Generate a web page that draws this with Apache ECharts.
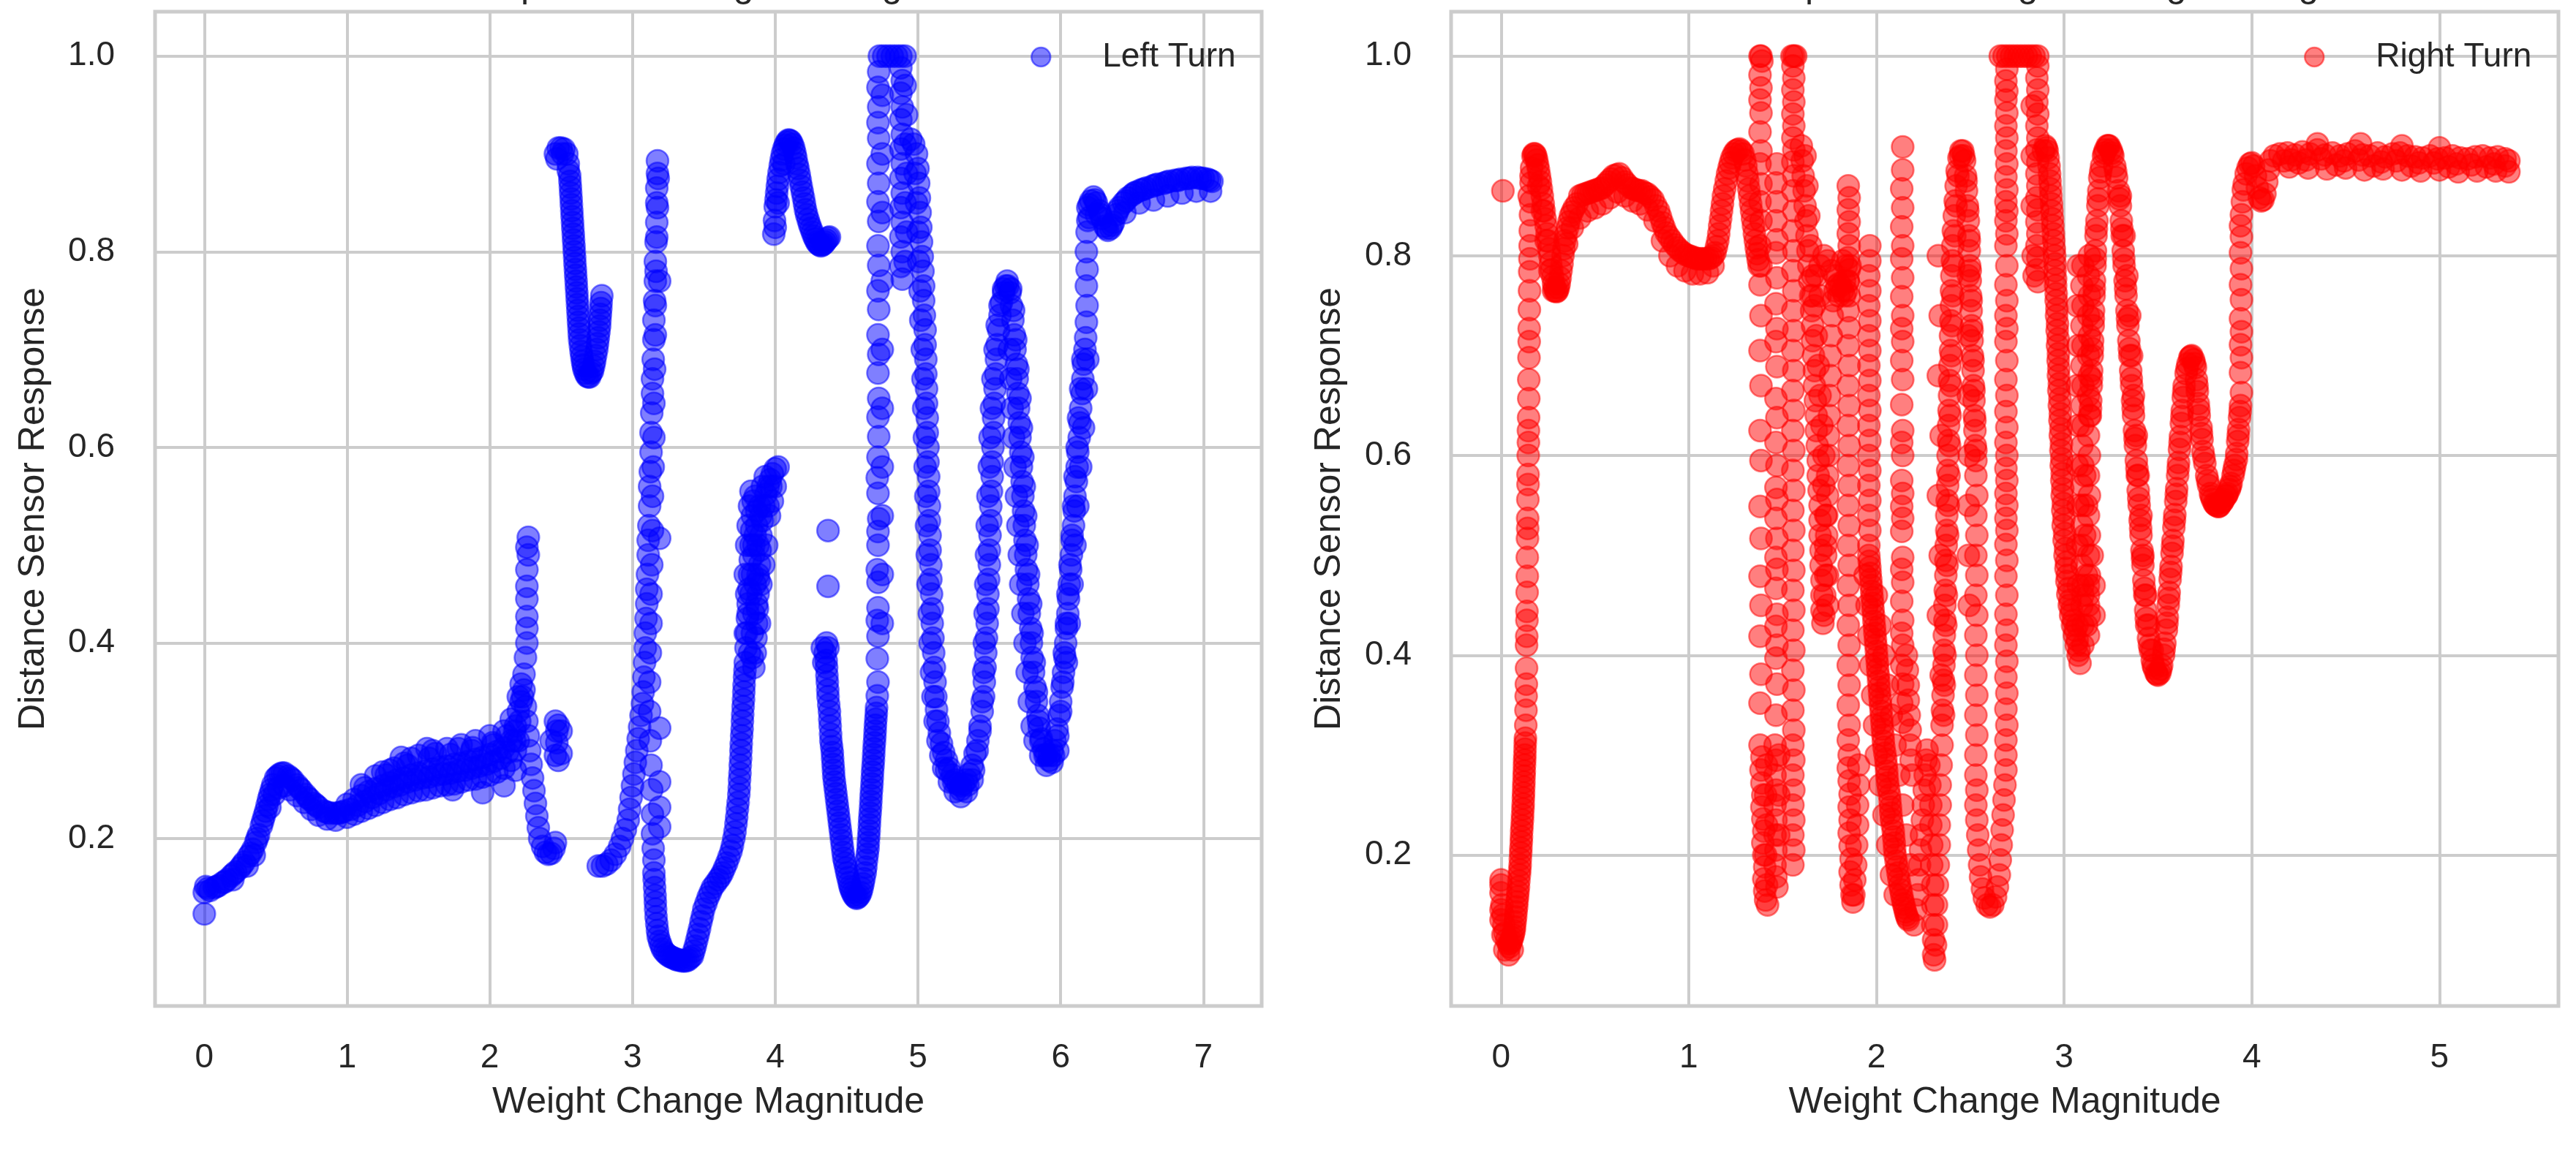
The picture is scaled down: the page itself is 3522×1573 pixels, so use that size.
<!DOCTYPE html>
<html>
<head>
<meta charset="utf-8">
<script src="https://cdn.jsdelivr.net/npm/echarts@6/dist/echarts.min.js"></script>
<style>
  html, body { margin: 0; padding: 0; background: #ffffff; }
  #chart { width: 3522px; height: 1573px; }
</style>
</head>
<body>
<div id="chart"></div>
<script>
// tick labels
var leftXTicks = [0, 1, 2, 3, 4, 5, 6, 7];
var rightXTicks = [0, 1, 2, 3, 4, 5];
var yTicks = [0.2, 0.4, 0.6, 0.8, 1.0];

// Left Turn: [weight change magnitude, distance sensor response]
var leftTurnPoints = [
  [0,0.145],[0,0.123],[0.01,0.151],[0.04,0.147],[0.07,0.15],[0.1,0.152],[0.13,0.155],[0.16,0.158],[0.19,0.162],[0.22,0.166],
  [0.25,0.17],[0.28,0.176],[0.31,0.182],[0.34,0.189],[0.36,0.196],[0.38,0.204],[0.4,0.213],[0.42,0.223],[0.44,0.234],[0.46,0.245],
  [0.48,0.255],[0.5,0.262],[0.53,0.266],[0.56,0.267],[0.59,0.264],[0.62,0.26],[0.65,0.255],[0.68,0.25],[0.71,0.245],[0.74,0.24],
  [0.77,0.236],[0.8,0.232],[0.84,0.228],[0.88,0.226],[0.92,0.226],[0.96,0.227],
  [0.46,0.232],[0.49,0.245],[0.52,0.252],[0.56,0.254],[0.6,0.25],[0.65,0.244],[0.7,0.237],[0.75,0.23],[0.8,0.224],[0.86,0.22],[0.92,0.219],
  [0.3,0.172],[0.35,0.183],[0.2,0.158],
  [1.0,0.222],[1.0,0.235],[1.05,0.225],[1.05,0.24],[1.1,0.228],[1.1,0.244],[1.1,0.255],[1.15,0.231],[1.15,0.248],
  [1.2,0.234],[1.2,0.251],[1.2,0.264],[1.25,0.237],[1.25,0.254],[1.3,0.24],[1.3,0.257],[1.3,0.27],[1.35,0.242],[1.35,0.26],
  [1.4,0.245],[1.4,0.262],[1.4,0.277],[1.45,0.247],[1.45,0.265],[1.5,0.249],[1.5,0.267],[1.5,0.285],[1.55,0.25],[1.55,0.269],
  [1.6,0.252],[1.6,0.271],[1.6,0.29],[1.65,0.254],[1.65,0.273],[1.7,0.255],[1.7,0.274],[1.7,0.292],[1.75,0.256],[1.75,0.276],
  [1.8,0.258],[1.8,0.277],[1.8,0.296],[1.85,0.26],[1.85,0.279],[1.9,0.261],[1.9,0.281],[1.9,0.3],[1.95,0.263],[1.95,0.283],
  [2.0,0.265],[2.0,0.286],[2.0,0.305],[2.05,0.268],[2.05,0.289],[2.1,0.272],[2.1,0.293],[2.1,0.31],[2.15,0.28],[2.15,0.3],[2.15,0.322],
  [2.18,0.29],[2.18,0.315],[2.2,0.3],[2.2,0.33],[2.2,0.345],[2.22,0.34],[2.22,0.358],[2.24,0.352],[2.24,0.368],
  [1.38,0.283],[1.56,0.292],[1.74,0.25],[1.95,0.247],[2.1,0.254],[2.18,0.27],
  [1.45,0.282],[1.62,0.287],[1.78,0.292],[1.88,0.293],[2.02,0.298],[2.12,0.305],[1.25,0.268],[1.33,0.272],
  [2.25,0.385],[2.26,0.4],[2.26,0.415],[2.26,0.427],[2.26,0.445],[2.26,0.458],[2.26,0.475],[2.27,0.49],[2.26,0.498],[2.27,0.508],
  [2.25,0.335],[2.26,0.32],[2.27,0.305],[2.28,0.29],[2.29,0.276],[2.3,0.262],[2.31,0.249],[2.32,0.236],[2.33,0.223],[2.34,0.211],
  [2.35,0.2],[2.37,0.192],[2.39,0.186],[2.41,0.184],[2.43,0.185],[2.45,0.19],[2.46,0.196],
  [2.43,0.3],[2.46,0.285],[2.47,0.298],[2.47,0.31],[2.48,0.316],[2.5,0.31],[2.5,0.287],[2.48,0.28],[2.46,0.32],
  [2.46,0.9],[2.48,0.906],[2.5,0.906],[2.52,0.905],[2.54,0.9],[2.55,0.89],[2.56,0.878],[2.565,0.866],[2.57,0.854],[2.575,0.842],
  [2.58,0.83],[2.585,0.818],[2.59,0.806],[2.595,0.794],[2.6,0.782],[2.605,0.77],[2.61,0.758],[2.615,0.746],[2.62,0.734],[2.625,0.722],
  [2.63,0.71],[2.64,0.698],[2.65,0.688],[2.66,0.68],[2.68,0.673],[2.7,0.672],[2.72,0.678],[2.735,0.688],[2.75,0.7],[2.76,0.712],
  [2.77,0.724],[2.775,0.736],[2.78,0.748],[2.785,0.755],
  [2.76,0.172],[2.79,0.172],[2.82,0.174],[2.85,0.178],[2.88,0.184],[2.91,0.192],[2.93,0.2],[2.95,0.209],[2.97,0.219],[2.98,0.23],
  [2.99,0.242],[3.0,0.254],[3.01,0.266],[3.02,0.278],[3.03,0.29],[3.04,0.302],[3.05,0.314],[3.06,0.326],[3.07,0.338],[3.075,0.35],
  [3.08,0.365],[3.085,0.38],[3.09,0.395],[3.09,0.41],[3.095,0.425],[3.1,0.44],[3.1,0.455],[3.105,0.47],[3.11,0.49],[3.11,0.505],
  [3.115,0.52],[3.12,0.54],[3.12,0.56],[3.125,0.575],[3.13,0.595],[3.13,0.615],[3.135,0.635],[3.14,0.655],[3.14,0.67],[3.145,0.69],
  [3.15,0.71],[3.15,0.73],[3.155,0.75],[3.16,0.77],[3.16,0.79],[3.165,0.81],[3.17,0.83],[3.17,0.85],[3.17,0.865],[3.175,0.88],[3.175,0.893],
  [3.18,0.875],[3.175,0.845],[3.17,0.815],[3.165,0.78],[3.16,0.745],[3.16,0.715],[3.155,0.68],[3.15,0.645],[3.15,0.61],[3.145,0.58],
  [3.14,0.55],[3.14,0.515],[3.135,0.48],[3.13,0.45],[3.13,0.42],[3.125,0.39],[3.12,0.36],[3.12,0.33],[3.125,0.3],[3.13,0.275],
  [3.135,0.25],[3.14,0.225],[3.14,0.205],[3.145,0.19],[3.15,0.178],
  [3.19,0.77],[3.19,0.507],[3.19,0.313],[3.19,0.258],[3.19,0.232],[3.19,0.212],
  [3.15,0.165],[3.155,0.15],[3.16,0.135],[3.165,0.12],[3.175,0.106],[3.19,0.095],[3.21,0.087],[3.24,0.082],[3.27,0.079],[3.3,0.077],
  [3.33,0.076],[3.36,0.075],[3.39,0.076],[3.42,0.08],[3.44,0.09],[3.46,0.102],[3.48,0.115],[3.5,0.128],[3.53,0.14],[3.56,0.15],
  [3.6,0.158],[3.63,0.165],[3.66,0.175],[3.69,0.187],[3.71,0.2],[3.725,0.215],[3.735,0.23],[3.745,0.245],[3.75,0.26],[3.755,0.275],
  [3.76,0.29],[3.765,0.305],[3.77,0.32],[3.775,0.335],[3.78,0.35],[3.785,0.365],[3.79,0.38],
  [3.795,0.395],[3.8,0.41],[3.805,0.425],[3.81,0.44],[3.815,0.455],[3.82,0.47],[3.825,0.485],[3.83,0.5],[3.835,0.515],[3.84,0.53],[3.845,0.545],
  [3.8,0.45],[3.79,0.47],[3.8,0.5],[3.81,0.52],[3.82,0.54],[3.83,0.555],
  [3.85,0.375],[3.86,0.39],[3.865,0.405],[3.87,0.42],[3.875,0.435],[3.88,0.45],[3.885,0.465],[3.89,0.48],[3.895,0.495],[3.9,0.51],
  [3.91,0.525],[3.92,0.54],[3.935,0.552],[3.95,0.56],[3.965,0.567],[3.98,0.573],[4.0,0.578],[4.02,0.58],
  [3.86,0.55],[3.87,0.535],[3.86,0.51],[3.85,0.49],[3.86,0.46],[3.85,0.43],[3.84,0.41],[3.88,0.5],[3.9,0.46],[3.94,0.5],[3.96,0.53],[3.98,0.545],[4.0,0.56],
  [3.79,0.41],[3.81,0.43],[3.83,0.45],[3.84,0.47],[3.85,0.5],[3.87,0.52],[3.89,0.54],[3.91,0.56],[3.93,0.57],[3.9,0.53],
  [3.88,0.47],[3.87,0.44],[3.89,0.42],[3.92,0.48],[3.95,0.54],[3.97,0.56],[3.82,0.39],[3.84,0.385],
  [4.37,0.515],[4.37,0.458],
  [3.99,0.818],[3.995,0.832],[4.0,0.846],[4.01,0.86],[4.02,0.874],[4.035,0.888],[4.05,0.9],[4.07,0.909],[4.09,0.914],[4.11,0.913],
  [4.13,0.906],[4.145,0.896],[4.16,0.885],[4.175,0.873],[4.19,0.861],[4.205,0.849],[4.22,0.838],[4.24,0.828],[4.26,0.82],[4.28,0.813],
  [4.3,0.808],[4.32,0.806],[4.34,0.808],[4.36,0.812],[4.38,0.815],[4.0,0.825],[4.02,0.85],[4.06,0.89],
  [4.33,0.395],[4.34,0.38],[4.37,0.395],[4.36,0.4],
  [4.35,0.39],[4.36,0.375],[4.365,0.36],[4.37,0.345],[4.38,0.33],[4.385,0.315],[4.39,0.3],[4.4,0.288],[4.405,0.276],[4.41,0.264],
  [4.42,0.252],[4.43,0.24],[4.44,0.228],[4.45,0.216],[4.46,0.204],[4.47,0.192],[4.48,0.18],[4.495,0.17],[4.51,0.16],[4.525,0.151],
  [4.54,0.145],[4.56,0.14],[4.58,0.14],[4.6,0.145],[4.615,0.154],[4.63,0.165],[4.64,0.178],[4.65,0.19],[4.655,0.202],[4.66,0.214],
  [4.665,0.226],[4.67,0.238],[4.675,0.25],[4.68,0.262],[4.685,0.274],[4.69,0.286],[4.695,0.298],[4.7,0.31],[4.705,0.322],[4.71,0.334],[4.715,0.346],
  [4.72,0.36],[4.715,0.384],[4.72,0.407],[4.715,0.423],[4.72,0.436],[4.72,0.462],[4.715,0.475],[4.72,0.5],[4.72,0.514],[4.725,0.527],
  [4.72,0.553],[4.715,0.569],[4.72,0.59],[4.725,0.611],[4.72,0.631],[4.725,0.65],[4.72,0.676],[4.725,0.695],[4.72,0.715],[4.725,0.741],
  [4.72,0.76],[4.725,0.786],[4.72,0.806],[4.725,0.831],[4.72,0.851],[4.725,0.87],[4.72,0.89],[4.725,0.916],[4.72,0.932],[4.725,0.948],
  [4.72,0.968],[4.725,0.984],
  [4.75,0.42],[4.75,0.47],[4.75,0.53],[4.75,0.58],[4.75,0.64],[4.75,0.7],[4.75,0.77],[4.75,0.84],[4.75,0.9],[4.75,0.96],
  [4.73,1.0],[4.76,1.0],[4.79,1.0],[4.82,1.0],[4.85,1.0],[4.88,1.0],[4.91,1.0],
  [4.88,0.988],[4.89,0.975],[4.88,0.962],[4.89,0.948],[4.88,0.935],[4.89,0.92],[4.88,0.905],[4.89,0.89],[4.88,0.875],[4.89,0.86],
  [4.88,0.845],[4.89,0.83],[4.88,0.815],[4.89,0.8],[4.88,0.785],[4.89,0.772],
  [4.91,0.97],[4.92,0.94],[4.91,0.91],[4.92,0.88],[4.91,0.85],[4.92,0.82],[4.91,0.79],
  [4.95,0.915],[4.97,0.91],[4.99,0.9],[5.0,0.885],[5.005,0.87],[5.01,0.855],[5.015,0.84],[5.02,0.825],[5.025,0.81],[5.03,0.795],
  [5.035,0.78],[5.04,0.765],[5.04,0.75],[5.045,0.735],[5.05,0.72],[5.05,0.705],[5.055,0.69],[5.055,0.675],[5.06,0.66],[5.06,0.645],
  [5.065,0.63],[5.065,0.615],[5.07,0.6],[5.07,0.585],[5.075,0.57],[5.075,0.555],[5.08,0.54],[5.08,0.525],[5.085,0.51],[5.085,0.495],
  [5.09,0.48],[5.09,0.465],[5.095,0.45],[5.1,0.435],[5.1,0.42],[5.105,0.405],[5.11,0.39],[5.115,0.375],[5.12,0.36],[5.125,0.345],
  [5.13,0.332],[5.14,0.32],[5.15,0.308],[5.165,0.297],[5.18,0.288],[5.2,0.28],[5.22,0.272],[5.24,0.265],[5.26,0.26],[5.28,0.256],
  [5.3,0.254],[5.32,0.256],[5.34,0.26],[5.36,0.266],[5.38,0.275],[5.4,0.287],[5.42,0.3],[5.435,0.315],[5.45,0.33],[5.46,0.345],
  [5.465,0.36],[5.47,0.375],[5.475,0.39],[5.48,0.405],[5.485,0.42],[5.49,0.435],[5.49,0.45],[5.495,0.465],[5.5,0.48],[5.5,0.495],
  [5.505,0.51],[5.51,0.525],[5.51,0.54],[5.515,0.555],[5.52,0.57],[5.52,0.585],[5.525,0.6],[5.53,0.615],[5.53,0.63],[5.535,0.645],
  [5.54,0.66],[5.545,0.675],[5.55,0.69],[5.555,0.705],[5.565,0.72],[5.575,0.735],[5.585,0.748],[5.6,0.758],[5.615,0.765],[5.63,0.765],
  [5.645,0.758],[5.655,0.745],[5.665,0.73],[5.675,0.715],[5.68,0.7],[5.69,0.685],[5.695,0.67],[5.7,0.655],[5.705,0.64],[5.71,0.625],
  [5.715,0.61],[5.72,0.595],[5.725,0.58],[5.73,0.565],[5.735,0.55],[5.74,0.535],[5.745,0.52],[5.75,0.505],[5.755,0.49],[5.76,0.475],
  [5.77,0.46],[5.775,0.445],[5.78,0.43],[5.79,0.415],[5.795,0.4],[5.8,0.385],[5.81,0.37],[5.82,0.355],[5.83,0.34],[5.84,0.326],
  [5.85,0.313],[5.865,0.302],[5.88,0.292],[5.9,0.286],[5.92,0.285],[5.94,0.29],[5.96,0.3],[5.975,0.312],[5.99,0.326],[6.0,0.34],
  [6.01,0.355],[6.02,0.37],[6.03,0.385],[6.035,0.4],[6.04,0.415],[6.05,0.43],[6.055,0.445],[6.06,0.46],[6.07,0.475],[6.075,0.49],
  [6.08,0.505],[6.09,0.52],[6.095,0.535],[6.1,0.55],[6.11,0.565],[6.115,0.58],[6.12,0.595],[6.13,0.61],[6.135,0.625],[6.14,0.64],
  [6.15,0.655],[6.155,0.67],[6.16,0.685],[6.17,0.7],[6.175,0.712],
  [5.18,0.272],[5.22,0.258],[5.26,0.248],[5.3,0.243],[5.34,0.248],[5.38,0.26],
  [5.64,0.7],[5.65,0.67],[5.66,0.64],[5.67,0.61],[5.68,0.58],[5.69,0.55],[5.7,0.52],[5.71,0.49],[5.72,0.46],[5.735,0.43],
  [5.75,0.4],[5.765,0.37],[5.78,0.34],[5.8,0.315],[5.82,0.3],
  [5.86,0.285],[5.9,0.275],[5.94,0.278],[5.98,0.29],
  [6.04,0.38],[6.06,0.42],[6.08,0.46],[6.1,0.5],[6.12,0.54],[6.14,0.58],[6.16,0.62],[6.18,0.66],[6.19,0.69],
  [6.18,0.728],[6.185,0.745],[6.18,0.765],[6.185,0.782],[6.18,0.8],[6.185,0.82],[6.19,0.832],
  [6.19,0.845],[6.21,0.852],[6.23,0.856],[6.25,0.85],[6.27,0.842],[6.29,0.834],[6.31,0.826],[6.33,0.822],[6.35,0.824],[6.37,0.83],
  [6.39,0.838],[6.41,0.845],[6.44,0.85],[6.47,0.855],[6.5,0.858],[6.53,0.861],[6.56,0.863],[6.6,0.865],[6.64,0.867],[6.68,0.869],
  [6.72,0.87],[6.76,0.872],[6.8,0.873],[6.84,0.874],[6.88,0.875],[6.92,0.876],[6.96,0.876],[7.0,0.875],[7.03,0.874],[7.06,0.872],
  [6.45,0.84],[6.55,0.85],[6.65,0.853],[6.75,0.857],[6.85,0.86],[6.95,0.862],[7.05,0.862],[6.2,0.835],[6.25,0.838]
];

// Left Turn: further points along the densely overplotted stretches
var leftTurnDense = [
  [0.025,0.149],[0.085,0.151],[0.145,0.156],[0.205,0.164],[0.265,0.173],[0.325,0.185],[0.37,0.2],[0.41,0.218],[0.43,0.228],[0.45,0.24],
  [0.47,0.25],[0.515,0.264],[0.545,0.267],[0.605,0.262],[0.665,0.252],[0.725,0.242],[0.785,0.234],[0.86,0.227],[0.94,0.226],[0.98,0.228],
  [1.025,0.23],[1.075,0.234],[1.125,0.238],[1.175,0.242],[1.225,0.246],[1.275,0.25],[1.325,0.253],[1.375,0.255],[1.425,0.258],[1.475,0.26],
  [1.525,0.262],[1.575,0.263],[1.625,0.265],[1.675,0.266],[1.725,0.267],[1.775,0.269],[1.825,0.27],[1.875,0.272],[1.925,0.274],[1.975,0.276],
  [2.025,0.279],[2.075,0.282],[2.125,0.288],[2.175,0.3],
  [1.125,0.252],[1.275,0.265],[1.425,0.275],[1.575,0.282],[1.725,0.286],[1.875,0.29],[2.025,0.296],[2.175,0.31],[2.21,0.32],[2.23,0.345],
  [2.47,0.895],[2.51,0.9],[2.55,0.883],[2.562,0.872],[2.567,0.86],[2.572,0.848],[2.577,0.836],[2.582,0.824],[2.587,0.812],[2.592,0.8],
  [2.597,0.788],[2.602,0.776],[2.607,0.764],[2.612,0.752],[2.617,0.74],[2.622,0.728],[2.627,0.716],[2.635,0.704],[2.645,0.693],[2.655,0.684],
  [2.67,0.676],[2.69,0.672],[2.71,0.676],[2.728,0.683],[2.742,0.694],[2.755,0.706],[2.765,0.718],[2.772,0.73],[2.778,0.742],
  [3.152,0.158],[3.158,0.142],[3.162,0.128],[3.17,0.113],[3.18,0.1],[3.2,0.091],[3.225,0.084],[3.255,0.08],[3.285,0.078],[3.315,0.076],
  [3.345,0.075],[3.375,0.075],[3.405,0.078],[3.43,0.085],[3.45,0.096],[3.47,0.108],[3.49,0.121],[3.515,0.134],[3.545,0.145],[3.58,0.154],
  [3.615,0.161],[3.645,0.17],[3.675,0.181],[3.7,0.193],[3.718,0.207],[3.73,0.222],[3.74,0.237],[3.748,0.252],[3.753,0.267],[3.758,0.282],
  [3.762,0.297],[3.768,0.312],[3.772,0.327],[3.778,0.342],[3.782,0.357],[3.788,0.372],
  [4.005,0.853],[4.015,0.867],[4.027,0.881],[4.042,0.894],[4.06,0.905],[4.08,0.912],[4.1,0.914],[4.12,0.91],[4.138,0.901],[4.152,0.89],
  [4.168,0.879],[4.182,0.867],[4.198,0.855],[4.212,0.843],[4.23,0.833],[4.25,0.824],[4.27,0.816],[4.29,0.81],[4.31,0.807],[4.33,0.807],
  [4.35,0.81],[4.37,0.814],
  [4.357,0.382],[4.362,0.367],[4.368,0.352],[4.375,0.337],[4.382,0.322],[4.388,0.307],[4.395,0.294],[4.402,0.282],[4.408,0.27],[4.415,0.258],
  [4.425,0.246],[4.435,0.234],[4.445,0.222],[4.455,0.21],[4.465,0.198],[4.475,0.186],[4.488,0.175],[4.502,0.165],[4.518,0.155],[4.532,0.148],
  [4.55,0.142],[4.57,0.139],[4.59,0.142],[4.608,0.149],[4.622,0.159],[4.635,0.171],[4.645,0.184],[4.652,0.196],[4.658,0.208],[4.662,0.22],
  [4.668,0.232],[4.672,0.244],[4.678,0.256],[4.682,0.268],[4.688,0.28],[4.692,0.292],[4.698,0.304],[4.702,0.316],[4.708,0.328],
  [4.98,0.88],[4.99,0.85],[5.0,0.82],[5.005,0.79],[5.015,0.76],[5.02,0.73],[5.03,0.7],[5.035,0.67],[5.04,0.64],[5.045,0.61],
  [5.05,0.58],[5.055,0.55],[5.06,0.52],[5.065,0.49],[5.07,0.46],[5.08,0.43],[5.085,0.4],[5.095,0.37],[5.105,0.345],[5.12,0.32],
  [5.14,0.3],[5.16,0.285],[5.2,0.27],[5.25,0.258],[5.3,0.25],[5.35,0.255],[5.39,0.27],[5.415,0.29],[5.435,0.31],[5.45,0.34],
  [5.46,0.37],[5.465,0.4],[5.47,0.43],[5.475,0.46],[5.48,0.49],[5.485,0.52],[5.49,0.55],[5.5,0.58],[5.505,0.61],[5.515,0.64],
  [5.525,0.67],[5.54,0.7],[5.555,0.725],[5.575,0.745],[5.6,0.762],[5.625,0.77],[5.65,0.762],[5.67,0.74],[5.685,0.71],[5.7,0.68],
  [5.715,0.65],[5.725,0.62],[5.735,0.59],[5.745,0.56],[5.755,0.53],[5.765,0.5],[5.775,0.47],[5.79,0.44],[5.8,0.41],[5.815,0.38],
  [5.83,0.35],[5.845,0.32],[5.86,0.3],[5.89,0.285],[5.92,0.28],[5.95,0.285],[5.98,0.305],[6.0,0.33],[6.015,0.36],[6.025,0.39],
  [6.04,0.42],[6.05,0.45],[6.065,0.48],[6.08,0.51],[6.09,0.54],[6.1,0.57],[6.115,0.6],[6.125,0.63],[6.14,0.66],[6.155,0.69],
  [6.2,0.848],[6.24,0.853],[6.28,0.838],[6.32,0.824],[6.36,0.827],[6.4,0.842],[6.455,0.852],[6.515,0.86],[6.58,0.864],[6.66,0.868],
  [6.74,0.871],[6.82,0.873],[6.9,0.875],[6.98,0.875],[7.045,0.873]
];

// Right Turn: [weight change magnitude, distance sensor response]
var rightTurnPoints = [
  [0.01,0.865],
  [0.0,0.175],[0.0,0.162],[0.005,0.15],[0.01,0.14],[0.015,0.13],[0.02,0.122],[0.03,0.115],[0.04,0.111],[0.05,0.112],[0.06,0.117],
  [0.07,0.124],[0.075,0.133],[0.08,0.143],[0.085,0.153],[0.09,0.163],[0.095,0.174],[0.1,0.185],[0.103,0.196],[0.106,0.207],[0.109,0.218],
  [0.112,0.229],[0.115,0.24],[0.118,0.251],[0.12,0.262],[0.122,0.273],[0.124,0.284],[0.126,0.295],[0.128,0.306],[0.13,0.317],
  [0.02,0.105],[0.04,0.1],[0.06,0.105],[0.0,0.135],[0.01,0.12],
  [0.132,0.33],[0.133,0.345],[0.134,0.359],[0.135,0.371],[0.136,0.387],[0.136,0.41],[0.137,0.419],[0.138,0.435],[0.138,0.444],[0.139,0.463],
  [0.14,0.479],[0.14,0.498],[0.141,0.517],[0.142,0.527],[0.142,0.537],[0.143,0.556],[0.144,0.571],[0.144,0.581],[0.145,0.6],[0.146,0.613],
  [0.146,0.625],[0.147,0.638],[0.148,0.657],[0.148,0.676],[0.149,0.698],[0.15,0.714],[0.15,0.727],[0.151,0.746],[0.152,0.765],[0.153,0.784],
  [0.154,0.797],[0.155,0.81],[0.156,0.825],[0.157,0.841],[0.158,0.854],[0.16,0.873],[0.163,0.888],
  [0.17,0.9],[0.18,0.902],[0.19,0.896],[0.2,0.886],[0.21,0.874],[0.22,0.86],[0.23,0.845],[0.24,0.83],[0.25,0.815],[0.26,0.8],
  [0.27,0.786],[0.28,0.772],[0.29,0.765],[0.3,0.765],[0.31,0.772],[0.32,0.785],[0.33,0.8],[0.34,0.815],[0.355,0.828],[0.37,0.84],
  [0.39,0.848],[0.42,0.86],[0.45,0.862],[0.48,0.864],[0.51,0.866],[0.54,0.868],[0.57,0.874],[0.6,0.88],[0.63,0.882],[0.66,0.874],
  [0.69,0.868],[0.72,0.866],[0.75,0.865],[0.78,0.862],[0.81,0.856],[0.84,0.845],[0.86,0.833],[0.88,0.823],[0.91,0.815],[0.94,0.808],
  [0.97,0.803],[1.0,0.8],[1.03,0.798],[1.06,0.797],[1.09,0.797],[1.12,0.798],[1.14,0.803],[1.155,0.815],[1.165,0.83],[1.175,0.845],
  [1.185,0.86],[1.2,0.875],[1.215,0.888],[1.23,0.898],[1.25,0.905],[1.27,0.907],[1.29,0.902],[1.305,0.89],[1.315,0.875],[1.325,0.86],
  [1.335,0.845],[1.345,0.83],[1.355,0.815],[1.365,0.802],[1.375,0.79],
  [0.35,0.812],[0.38,0.828],[0.42,0.838],[0.46,0.845],[0.5,0.848],[0.54,0.852],[0.58,0.858],[0.62,0.864],[0.66,0.86],[0.7,0.855],
  [0.74,0.852],[0.78,0.846],[0.82,0.835],[0.86,0.815],[0.9,0.8],[0.94,0.79],[0.98,0.785],[1.02,0.782],[1.06,0.782],[1.1,0.783],
  [1.13,0.79],[0.16,0.88],[0.15,0.86],[0.2,0.87],[0.22,0.845],[0.24,0.815],[0.26,0.785],[0.28,0.765],
  [1.38,1.0],[1.385,1.0],[1.39,0.995],[1.38,0.981],[1.385,0.968],[1.38,0.956],[1.385,0.943],[1.38,0.924],[1.385,0.905],[1.38,0.892],
  [1.385,0.872],[1.38,0.854],[1.385,0.835],[1.38,0.81],[1.385,0.79],[1.38,0.771],[1.385,0.74],[1.38,0.705],[1.385,0.67],[1.38,0.625],
  [1.385,0.595],[1.38,0.549],[1.385,0.517],[1.38,0.479],[1.385,0.45],[1.38,0.419],[1.385,0.381],[1.38,0.352],
  [1.38,0.31],[1.39,0.298],[1.385,0.285],[1.39,0.272],[1.395,0.26],[1.39,0.248],[1.395,0.236],[1.4,0.224],[1.395,0.212],[1.4,0.2],
  [1.405,0.188],[1.4,0.176],[1.405,0.164],[1.41,0.155],[1.42,0.15],[1.415,0.17],[1.41,0.2],[1.415,0.23],[1.41,0.26],[1.415,0.29],
  [1.47,0.892],[1.465,0.873],[1.47,0.854],[1.465,0.835],[1.47,0.816],[1.465,0.803],[1.47,0.778],[1.465,0.752],[1.47,0.727],[1.465,0.714],
  [1.47,0.689],[1.465,0.657],[1.47,0.638],[1.465,0.613],[1.47,0.59],[1.465,0.568],[1.47,0.556],[1.465,0.537],[1.47,0.517],[1.465,0.498],
  [1.47,0.486],[1.465,0.467],[1.47,0.441],[1.465,0.429],[1.47,0.41],[1.465,0.397],[1.47,0.371],[1.465,0.34],
  [1.46,0.31],[1.465,0.295],[1.46,0.28],[1.465,0.265],[1.46,0.25],[1.465,0.235],[1.46,0.22],[1.465,0.205],[1.46,0.19],[1.465,0.178],
  [1.47,0.168],[1.48,0.3],[1.48,0.26],[1.48,0.22],
  [1.55,1.0],[1.56,1.0],[1.57,1.0],[1.555,0.99],[1.56,0.978],[1.555,0.966],[1.56,0.954],[1.555,0.942],[1.56,0.93],[1.555,0.918],
  [1.56,0.906],[1.555,0.894],[1.56,0.88],[1.555,0.865],[1.56,0.845],[1.555,0.825],[1.56,0.805],[1.555,0.785],[1.56,0.765],[1.555,0.745],
  [1.56,0.725],[1.555,0.705],[1.56,0.685],[1.555,0.665],[1.56,0.645],[1.555,0.625],[1.56,0.605],[1.555,0.585],[1.56,0.565],[1.555,0.545],
  [1.56,0.525],[1.555,0.505],[1.56,0.485],[1.555,0.465],[1.56,0.445],[1.555,0.425],[1.56,0.405],[1.555,0.385],[1.56,0.365],[1.555,0.345],
  [1.56,0.325],[1.555,0.31],[1.56,0.295],[1.555,0.28],[1.56,0.265],[1.555,0.25],[1.56,0.235],[1.555,0.22],[1.56,0.205],[1.555,0.19],
  [1.6,0.91],[1.605,0.895],[1.61,0.88],[1.615,0.865],[1.62,0.85],[1.625,0.835],[1.63,0.82],[1.635,0.805],[1.64,0.79],[1.645,0.775],
  [1.65,0.76],[1.655,0.745],[1.66,0.73],[1.66,0.715],[1.665,0.7],[1.67,0.685],[1.67,0.67],[1.675,0.655],[1.68,0.64],[1.68,0.625],
  [1.685,0.61],[1.69,0.595],[1.69,0.58],[1.695,0.565],[1.7,0.55],[1.7,0.535],[1.7,0.52],[1.705,0.505],[1.705,0.49],[1.71,0.475],
  [1.71,0.46],[1.71,0.445],[1.715,0.432],
  [1.62,0.9],[1.63,0.87],[1.64,0.84],[1.65,0.81],[1.66,0.78],[1.67,0.75],[1.68,0.72],[1.69,0.69],[1.7,0.66],[1.71,0.63],
  [1.72,0.6],[1.72,0.57],[1.73,0.54],[1.73,0.51],[1.74,0.48],[1.74,0.45],
  [1.72,0.44],[1.725,0.46],[1.73,0.48],[1.73,0.5],[1.735,0.52],[1.735,0.54],[1.74,0.56],[1.74,0.58],[1.745,0.6],[1.745,0.62],
  [1.75,0.64],[1.75,0.66],[1.755,0.68],[1.755,0.7],[1.76,0.72],[1.765,0.74],[1.77,0.755],[1.78,0.765],[1.79,0.77],[1.8,0.772],
  [1.81,0.77],[1.82,0.765],[1.83,0.76],[1.84,0.765],[1.85,0.775],[1.86,0.79],
  [1.68,0.78],[1.7,0.79],[1.72,0.8],[1.74,0.795],[1.76,0.785],[1.78,0.78],[1.7,0.76],[1.66,0.76],[1.8,0.76],[1.83,0.775],[1.84,0.79],[1.82,0.795],
  [1.85,0.87],[1.855,0.858],[1.85,0.846],[1.855,0.834],[1.85,0.822],[1.855,0.81],[1.85,0.798],[1.855,0.786],[1.85,0.774],[1.855,0.76],
  [1.85,0.745],[1.855,0.728],[1.85,0.71],[1.855,0.69],[1.85,0.67],[1.855,0.65],[1.85,0.63],[1.855,0.61],[1.85,0.59],[1.855,0.57],
  [1.85,0.55],[1.855,0.53],[1.85,0.51],[1.855,0.49],[1.85,0.47],[1.855,0.45],[1.85,0.43],[1.855,0.41],[1.85,0.39],[1.855,0.37],
  [1.85,0.35],[1.855,0.33],[1.85,0.315],[1.855,0.3],[1.85,0.287],[1.855,0.274],[1.86,0.261],[1.855,0.248],[1.86,0.235],[1.855,0.222],
  [1.86,0.209],[1.865,0.196],[1.86,0.183],[1.865,0.17],[1.87,0.16],[1.875,0.153],[1.88,0.16],[1.885,0.175],[1.89,0.19],[1.895,0.21],
  [1.9,0.23],[1.9,0.25],[1.905,0.27],[1.905,0.29],
  [1.965,0.81],[1.965,0.795],[1.96,0.78],[1.965,0.765],[1.96,0.75],[1.965,0.735],[1.96,0.72],[1.965,0.705],[1.96,0.69],[1.965,0.675],
  [1.96,0.66],[1.965,0.645],[1.96,0.63],[1.965,0.615],[1.96,0.6],[1.965,0.585],[1.96,0.57],[1.965,0.555],[1.96,0.54],[1.965,0.525],[1.96,0.51],
  [1.96,0.5],[1.965,0.488],[1.97,0.476],[1.975,0.464],[1.98,0.452],[1.985,0.44],[1.99,0.428],[1.995,0.416],[2.0,0.404],[2.005,0.392],
  [2.01,0.38],[2.015,0.368],[2.02,0.356],[2.025,0.344],[2.03,0.332],[2.035,0.32],[2.04,0.308],[2.05,0.296],[2.055,0.284],[2.06,0.272],
  [2.07,0.26],[2.075,0.248],[2.08,0.236],[2.09,0.224],[2.095,0.212],[2.1,0.2],[2.11,0.188],[2.12,0.176],[2.13,0.165],[2.14,0.155],
  [2.15,0.147],[2.16,0.14],[2.17,0.135],
  [1.94,0.48],[1.95,0.45],[1.96,0.42],[1.97,0.39],[1.98,0.36],[1.99,0.33],[2.0,0.3],[2.02,0.27],[2.04,0.24],[2.06,0.21],[2.08,0.18],[2.1,0.16],
  [2.0,0.46],[2.02,0.43],[2.04,0.4],[2.06,0.37],[2.08,0.34],[2.1,0.31],[2.12,0.28],[2.14,0.25],[2.16,0.22],[2.18,0.19],
  [2.14,0.909],[2.14,0.886],[2.135,0.867],[2.14,0.848],[2.135,0.829],[2.14,0.81],[2.135,0.797],[2.14,0.778],[2.135,0.759],[2.14,0.74],
  [2.135,0.727],[2.14,0.714],[2.135,0.695],[2.14,0.676],[2.135,0.651],[2.14,0.625],[2.135,0.613],[2.14,0.6],[2.135,0.575],[2.14,0.562],
  [2.135,0.549],[2.14,0.537],[2.135,0.524],[2.14,0.498],[2.135,0.486],[2.14,0.473],[2.135,0.454],[2.14,0.435],[2.135,0.422],[2.14,0.41],
  [2.135,0.39],[2.14,0.371],[2.135,0.352],[2.14,0.333],
  [2.16,0.4],[2.165,0.385],[2.17,0.37],[2.17,0.355],[2.175,0.34],[2.18,0.325],[2.18,0.31],[2.185,0.295],[2.19,0.28],
  [2.2,0.13],[2.21,0.145],[2.22,0.16],[2.225,0.175],[2.23,0.19],[2.235,0.205],[2.24,0.22],[2.245,0.235],[2.25,0.25],[2.255,0.265],
  [2.26,0.28],[2.265,0.295],[2.27,0.305],[2.28,0.29],[2.285,0.27],[2.29,0.25],[2.29,0.23],[2.295,0.21],[2.295,0.19],[2.3,0.17],
  [2.3,0.15],[2.3,0.13],[2.305,0.115],[2.305,0.1],[2.31,0.095],[2.315,0.11],[2.32,0.13],[2.32,0.15],[2.325,0.17],[2.33,0.19],
  [2.335,0.21],[2.335,0.23],[2.34,0.25],[2.34,0.27],[2.345,0.29],[2.35,0.31],
  [2.35,0.33],[2.352,0.345],[2.355,0.36],[2.357,0.375],[2.36,0.39],[2.36,0.405],[2.362,0.42],[2.365,0.435],[2.365,0.45],[2.367,0.465],
  [2.37,0.48],[2.37,0.495],[2.372,0.51],[2.375,0.525],[2.375,0.54],[2.377,0.555],[2.38,0.57],[2.38,0.585],[2.382,0.6],[2.385,0.615],
  [2.385,0.63],[2.387,0.645],[2.39,0.66],[2.39,0.675],[2.392,0.69],[2.395,0.705],[2.395,0.72],[2.397,0.735],[2.4,0.75],[2.4,0.765],
  [2.402,0.78],[2.405,0.795],[2.407,0.81],[2.41,0.825],[2.415,0.84],[2.42,0.855],[2.425,0.87],[2.43,0.885],[2.44,0.898],[2.45,0.905],
  [2.46,0.905],[2.47,0.895],[2.475,0.88],[2.48,0.865],[2.485,0.85],[2.49,0.835],[2.493,0.82],[2.495,0.805],[2.497,0.79],[2.5,0.775],
  [2.502,0.76],[2.505,0.745],[2.507,0.73],[2.51,0.715],[2.512,0.7],[2.515,0.685],[2.517,0.67],[2.52,0.655],[2.522,0.64],[2.525,0.625],
  [2.527,0.61],[2.53,0.595],
  [2.33,0.8],[2.34,0.74],[2.33,0.68],[2.345,0.62],[2.33,0.56],[2.34,0.5],[2.33,0.44],[2.345,0.38],
  [2.53,0.58],[2.535,0.56],[2.53,0.54],[2.535,0.52],[2.53,0.5],[2.535,0.48],[2.53,0.46],[2.535,0.44],[2.53,0.42],[2.535,0.4],
  [2.53,0.38],[2.535,0.36],[2.53,0.34],[2.535,0.32],[2.53,0.3],
  [2.49,0.78],[2.49,0.72],[2.49,0.66],[2.495,0.6],[2.49,0.55],[2.49,0.5],[2.495,0.45],
  [2.53,0.28],[2.535,0.265],[2.53,0.25],[2.535,0.235],[2.54,0.22],[2.545,0.205],[2.55,0.19],[2.555,0.178],[2.565,0.166],[2.575,0.157],
  [2.59,0.15],[2.605,0.148],[2.62,0.15],[2.635,0.158],[2.645,0.168],[2.655,0.18],[2.66,0.195],[2.665,0.21],[2.67,0.225],[2.675,0.24],
  [2.68,0.255],[2.685,0.27],[2.69,0.285],[2.69,0.3],
  [2.69,0.315],[2.695,0.33],[2.69,0.346],[2.695,0.362],[2.69,0.378],[2.695,0.394],[2.69,0.41],[2.695,0.425],[2.69,0.441],[2.695,0.46],
  [2.69,0.479],[2.695,0.495],[2.69,0.511],[2.695,0.525],[2.69,0.537],[2.695,0.55],[2.69,0.562],[2.695,0.575],[2.69,0.587],[2.695,0.6],
  [2.69,0.613],[2.695,0.628],[2.69,0.644],[2.695,0.66],[2.69,0.676],[2.695,0.695],[2.69,0.714],[2.695,0.727],[2.69,0.74],[2.695,0.755],
  [2.69,0.771],[2.695,0.79],[2.69,0.81],[2.695,0.822],[2.69,0.835],[2.695,0.845],[2.69,0.854],[2.695,0.866],[2.69,0.879],[2.695,0.892],
  [2.69,0.905],[2.695,0.918],[2.69,0.93],[2.695,0.943],[2.69,0.956],[2.695,0.965],[2.69,0.975],[2.695,0.987],
  [2.66,1.0],[2.68,1.0],[2.7,1.0],[2.72,1.0],[2.74,1.0],[2.76,1.0],[2.78,1.0],[2.8,1.0],[2.82,1.0],[2.84,1.0],[2.86,1.0],
  [2.86,0.99],[2.855,0.978],[2.86,0.966],[2.855,0.954],[2.86,0.942],[2.855,0.93],[2.86,0.918],[2.855,0.906],[2.86,0.894],[2.855,0.882],
  [2.86,0.87],[2.855,0.858],[2.86,0.846],[2.855,0.834],[2.86,0.822],[2.855,0.81],[2.86,0.798],[2.855,0.786],[2.86,0.774],
  [2.83,0.95],[2.83,0.9],[2.83,0.85],[2.835,0.8],[2.84,0.78],
  [2.89,0.905],[2.9,0.91],[2.91,0.905],[2.92,0.89],[2.925,0.875],[2.93,0.86],[2.935,0.845],[2.94,0.83],[2.945,0.815],[2.95,0.8],
  [2.952,0.785],[2.955,0.77],[2.958,0.755],[2.96,0.74],[2.963,0.725],[2.965,0.71],[2.968,0.695],[2.97,0.68],[2.972,0.665],[2.975,0.65],
  [2.978,0.635],[2.98,0.62],[2.983,0.605],[2.985,0.59],[2.988,0.575],[2.99,0.56],[2.993,0.545],[2.995,0.53],[3.0,0.515],[3.005,0.5],
  [3.01,0.487],[3.015,0.474],[3.02,0.461],[3.028,0.45],[3.035,0.44],[3.045,0.43],[3.055,0.42],[3.065,0.41],[3.075,0.4],[3.085,0.392],
  [3.1,0.41],[3.1,0.43],[3.095,0.45],[3.1,0.47],[3.095,0.49],[3.1,0.51],[3.095,0.53],[3.1,0.55],[3.095,0.57],[3.1,0.59],
  [3.095,0.61],[3.1,0.63],[3.095,0.65],[3.1,0.67],[3.095,0.69],[3.1,0.71],[3.095,0.73],[3.1,0.75],[3.095,0.77],[3.1,0.79],
  [3.13,0.42],[3.135,0.44],[3.13,0.46],[3.135,0.48],[3.13,0.5],[3.135,0.52],[3.13,0.54],[3.135,0.56],[3.13,0.58],[3.135,0.6],
  [3.13,0.62],[3.135,0.64],[3.13,0.66],[3.135,0.68],[3.13,0.7],[3.135,0.72],[3.13,0.74],[3.135,0.76],[3.13,0.78],[3.135,0.8],
  [3.07,0.43],[3.075,0.47],[3.07,0.51],[3.075,0.55],[3.07,0.59],[3.075,0.63],[3.07,0.67],[3.075,0.71],[3.07,0.75],[3.075,0.79],
  [3.1,0.46],[3.12,0.48],[3.11,0.52],[3.12,0.55],[3.11,0.58],[3.13,0.47],[3.12,0.43],[3.13,0.45],[3.16,0.44],[3.16,0.47],[3.15,0.5],
  [3.14,0.64],[3.142,0.655],[3.145,0.67],[3.147,0.685],[3.15,0.7],[3.152,0.715],[3.155,0.73],[3.157,0.745],[3.16,0.76],[3.162,0.775],
  [3.165,0.79],[3.167,0.805],[3.17,0.82],[3.175,0.835],[3.18,0.85],[3.185,0.865],[3.19,0.878],[3.2,0.89],[3.21,0.9],[3.22,0.906],
  [3.23,0.91],[3.24,0.91],[3.25,0.906],[3.26,0.9],[3.27,0.89],[3.28,0.878],[3.29,0.865],[3.3,0.85],[3.305,0.835],[3.31,0.82],
  [3.315,0.805],[3.32,0.79],[3.325,0.775],[3.33,0.76],[3.335,0.745],[3.34,0.73],[3.345,0.715],[3.35,0.7],[3.355,0.685],[3.36,0.67],
  [3.365,0.655],[3.37,0.64],[3.375,0.625],[3.38,0.61],[3.385,0.595],[3.39,0.58],[3.395,0.565],[3.4,0.55],[3.405,0.535],[3.41,0.52],
  [3.415,0.505],[3.42,0.49],[3.425,0.475],[3.43,0.46],[3.435,0.445],[3.44,0.43],[3.45,0.417],[3.46,0.405],[3.47,0.395],[3.48,0.387],
  [3.49,0.382],[3.5,0.38],[3.51,0.382],[3.52,0.39],[3.53,0.4],[3.537,0.412],[3.545,0.425],[3.55,0.438],[3.555,0.45],[3.56,0.463],
  [3.565,0.476],[3.57,0.489],[3.575,0.502],[3.58,0.515],[3.585,0.528],[3.59,0.541],[3.595,0.554],[3.6,0.567],[3.605,0.58],[3.61,0.593],
  [3.615,0.606],[3.62,0.619],[3.625,0.632],[3.63,0.645],[3.635,0.658],[3.64,0.67],[3.65,0.682],[3.66,0.692],[3.67,0.698],[3.68,0.7],
  [3.69,0.696],[3.7,0.688],[3.705,0.676],[3.71,0.664],[3.715,0.652],[3.72,0.64],[3.73,0.628],[3.735,0.616],[3.74,0.604],[3.75,0.592],
  [3.76,0.58],[3.77,0.57],[3.78,0.562],[3.79,0.556],[3.8,0.552],[3.81,0.55],[3.82,0.549],[3.83,0.55],[3.84,0.553],[3.85,0.556],
  [3.86,0.559],[3.87,0.562],[3.88,0.566],[3.89,0.572],[3.9,0.58],[3.91,0.59],[3.92,0.602],[3.925,0.614],[3.93,0.626],[3.935,0.638],[3.94,0.65],
  [3.945,0.663],[3.94,0.683],[3.945,0.698],[3.94,0.711],[3.945,0.724],[3.94,0.737],[3.945,0.756],[3.94,0.771],[3.945,0.787],[3.94,0.803],
  [3.945,0.819],[3.94,0.83],[3.945,0.841],[3.95,0.854],[3.955,0.866],
  [3.96,0.872],[3.97,0.882],[3.98,0.888],[3.99,0.892],[4.0,0.893],[4.01,0.89],[4.02,0.88],[4.03,0.868],[4.04,0.858],[4.05,0.855],
  [4.06,0.856],[4.07,0.862],[4.08,0.874],[4.09,0.886],[4.1,0.895],[4.12,0.9],[4.15,0.902],[4.19,0.903],[4.23,0.901],[4.27,0.904],
  [4.31,0.902],[4.35,0.906],[4.39,0.901],[4.43,0.903],[4.47,0.9],[4.51,0.902],[4.55,0.905],[4.59,0.901],[4.63,0.9],[4.67,0.903],
  [4.71,0.899],[4.75,0.902],[4.79,0.903],[4.83,0.9],[4.87,0.899],[4.91,0.898],[4.95,0.9],[4.99,0.897],[5.03,0.898],[5.07,0.9],
  [5.11,0.898],[5.15,0.897],[5.19,0.899],[5.23,0.9],[5.27,0.898],[5.31,0.899],[5.35,0.897],[5.37,0.895],
  [4.2,0.889],[4.3,0.888],[4.4,0.887],[4.5,0.888],[4.6,0.886],[4.7,0.887],[4.8,0.886],[4.9,0.885],[5.0,0.886],[5.1,0.884],
  [5.2,0.885],[5.3,0.885],[5.37,0.884],[4.25,0.893],[4.45,0.891],[4.65,0.89],[4.85,0.89],[5.05,0.889],[5.25,0.889],
  [4.35,0.912],[4.58,0.912],[4.8,0.91],[5.0,0.908]
];

// Right Turn: further points along the densely overplotted stretches
var rightTurnDense = [
  [0.045,0.108],[0.055,0.114],[0.065,0.12],[0.072,0.128],[0.078,0.138],[0.083,0.148],[0.088,0.158],[0.093,0.168],[0.098,0.18],[0.102,0.19],
  [0.105,0.202],[0.108,0.213],[0.11,0.224],[0.114,0.235],[0.117,0.246],[0.119,0.257],[0.121,0.268],[0.123,0.279],[0.125,0.29],[0.127,0.3],
  [0.129,0.312],[0.0,0.17],[0.0,0.145],
  [0.175,0.902],[0.185,0.9],[0.195,0.891],[0.205,0.88],[0.215,0.867],[0.225,0.852],[0.235,0.837],[0.245,0.822],[0.255,0.807],[0.265,0.793],
  [0.275,0.779],[0.285,0.768],[0.295,0.764],[0.305,0.768],[0.315,0.778],[0.325,0.792],[0.335,0.807],[0.347,0.821],[0.362,0.834],[0.38,0.844],
  [0.405,0.852],[0.435,0.861],[0.465,0.863],[0.495,0.865],[0.525,0.867],[0.555,0.871],[0.585,0.877],[0.615,0.881],[0.645,0.878],[0.675,0.871],
  [0.705,0.867],[0.735,0.865],[0.765,0.863],[0.795,0.859],[0.825,0.85],[0.85,0.839],[0.87,0.828],[0.895,0.819],[0.925,0.811],[0.955,0.805],
  [0.985,0.801],[1.015,0.799],[1.045,0.797],[1.075,0.797],[1.105,0.797],[1.13,0.8],[1.148,0.809],[1.16,0.822],[1.17,0.837],[1.18,0.852],
  [1.192,0.867],[1.207,0.882],[1.222,0.893],[1.24,0.902],[1.26,0.906],[1.28,0.905],[1.298,0.896],[1.31,0.882],[1.32,0.867],[1.33,0.852],
  [1.34,0.837],[1.35,0.822],[1.36,0.808],[1.37,0.796],
  [1.962,0.494],[1.967,0.482],[1.972,0.47],[1.977,0.458],[1.982,0.446],[1.987,0.434],[1.992,0.422],[1.997,0.41],[2.002,0.398],[2.007,0.386],
  [2.012,0.374],[2.017,0.362],[2.022,0.35],[2.027,0.338],[2.032,0.326],[2.037,0.314],[2.045,0.302],[2.052,0.29],[2.057,0.278],[2.065,0.266],
  [2.072,0.254],[2.077,0.242],[2.085,0.23],[2.092,0.218],[2.097,0.206],[2.105,0.194],[2.115,0.182],[2.125,0.17],[2.135,0.16],[2.145,0.151],
  [2.155,0.143],[2.165,0.137],
  [2.358,0.34],[2.362,0.37],[2.366,0.4],[2.37,0.43],[2.373,0.46],[2.377,0.49],[2.38,0.52],[2.383,0.55],[2.387,0.58],[2.39,0.61],
  [2.393,0.64],[2.397,0.67],[2.4,0.7],[2.403,0.73],[2.407,0.76],[2.412,0.79],[2.418,0.82],[2.425,0.85],[2.435,0.88],[2.448,0.9],
  [2.465,0.9],[2.478,0.875],[2.487,0.845],[2.495,0.815],[2.5,0.785],[2.505,0.755],[2.51,0.725],[2.515,0.695],[2.52,0.665],[2.525,0.635],[2.53,0.605],
  [2.905,0.908],[2.915,0.898],[2.923,0.882],[2.928,0.867],[2.933,0.852],[2.938,0.837],[2.943,0.822],[2.948,0.807],[2.952,0.792],[2.955,0.777],
  [2.958,0.762],[2.962,0.747],[2.965,0.732],[2.968,0.717],[2.97,0.702],[2.972,0.687],[2.975,0.672],[2.978,0.657],[2.98,0.642],[2.983,0.627],
  [2.986,0.612],[2.988,0.597],[2.99,0.582],[2.993,0.567],[2.996,0.552],[2.999,0.537],[3.003,0.522],[3.008,0.507],[3.013,0.493],[3.018,0.48],
  [3.025,0.467],[3.032,0.455],[3.04,0.445],[3.05,0.435],[3.06,0.425],[3.07,0.415],[3.08,0.405],
  [3.141,0.647],[3.146,0.677],[3.151,0.707],[3.156,0.737],[3.161,0.767],[3.166,0.797],[3.172,0.827],[3.182,0.857],[3.195,0.884],[3.215,0.903],
  [3.235,0.91],[3.255,0.903],[3.275,0.884],[3.295,0.857],[3.308,0.827],[3.318,0.797],[3.328,0.767],[3.338,0.737],[3.348,0.707],[3.358,0.677],
  [3.368,0.647],[3.378,0.617],[3.388,0.587],[3.398,0.557],[3.408,0.527],[3.418,0.497],[3.428,0.467],[3.438,0.437],[3.455,0.41],[3.475,0.39],
  [3.495,0.381],[3.515,0.386],[3.533,0.406],[3.548,0.432],[3.558,0.457],[3.568,0.483],[3.578,0.509],[3.588,0.535],[3.598,0.561],[3.608,0.587],
  [3.618,0.613],[3.628,0.639],[3.638,0.664],[3.655,0.687],[3.675,0.699],[3.695,0.692],[3.708,0.67],[3.718,0.646],[3.732,0.622],[3.745,0.598],
  [3.765,0.575],[3.785,0.559],[3.805,0.551],[3.825,0.549],[3.845,0.554],[3.865,0.56],[3.885,0.569],[3.905,0.585],[3.918,0.596],[3.928,0.62],[3.938,0.644],
  [3.3,0.86],[3.32,0.82],[3.335,0.78],[3.35,0.74],[3.36,0.7],[3.37,0.66],[3.385,0.62],[3.395,0.58],[3.41,0.54],[3.42,0.5],
  [3.435,0.46],[3.45,0.43],[3.47,0.405],
  [4.17,0.895],[4.21,0.896],[4.29,0.896],[4.37,0.897],[4.49,0.895],[4.57,0.896],[4.69,0.894],[4.77,0.895],[4.89,0.893],[4.97,0.893],
  [5.09,0.892],[5.17,0.891],[5.29,0.892],[5.35,0.89]
];

var ink = '#262626';
var rule = '#cccccc';
var fontFamily = "'Liberation Sans', Arial, sans-serif";

function xAxisFor(gridIndex, min, max, ticks) {
  return {
    gridIndex: gridIndex,
    type: 'value',
    min: min,
    max: max,
    name: 'Weight Change Magnitude',
    nameLocation: 'middle',
    nameGap: 107,
    nameTextStyle: { fontSize: 50, color: ink, fontFamily: fontFamily },
    axisLine: { show: false },
    axisTick: { show: false, customValues: ticks },
    axisLabel: {
      customValues: ticks,
      fontSize: 46,
      color: ink,
      fontFamily: fontFamily,
      margin: 48,
      formatter: function(v) { return String(Math.round(v)); }
    },
    splitLine: { show: true, lineStyle: { color: rule, width: 4 } }
  };
}

function yAxisFor(gridIndex, min, max, margin) {
  return {
    gridIndex: gridIndex,
    type: 'value',
    min: min,
    max: max,
    name: 'Distance Sensor Response',
    nameLocation: 'middle',
    nameGap: 141,
    nameRotate: 90,
    nameTextStyle: { fontSize: 50, color: ink, fontFamily: fontFamily },
    axisLine: { show: false },
    axisTick: { show: false, customValues: yTicks },
    axisLabel: {
      customValues: yTicks,
      fontSize: 46,
      color: ink,
      fontFamily: fontFamily,
      margin: margin,
      formatter: function(v) { return v.toFixed(1); }
    },
    splitLine: { show: true, lineStyle: { color: rule, width: 4 } }
  };
}

function scatterSeries(name, color, data, axisIndex) {
  return {
    type: 'scatter',
    name: name,
    xAxisIndex: axisIndex,
    yAxisIndex: axisIndex,
    data: data,
    symbol: 'circle',
    symbolSize: 30,
    large: false,
    progressive: 0,
    itemStyle: { color: color, opacity: 0.5, borderColor: color, borderWidth: 2.5 },
    emphasis: { disabled: true }
  };
}

function legendFor(name, color, left) {
  return {
    data: [name],
    left: left,
    top: 55,
    padding: 0,
    icon: 'circle',
    itemWidth: 158,
    itemHeight: 26,
    selectedMode: false,
    textStyle: { fontSize: 46, color: ink, fontFamily: fontFamily },
    itemStyle: { color: color, opacity: 0.5, borderColor: color, borderWidth: 2.5 }
  };
}

var chart = echarts.init(document.getElementById('chart'), null, { renderer: 'canvas' });
chart.setOption({
  animation: false,
  backgroundColor: '#ffffff',
  textStyle: { fontFamily: fontFamily },
  title: [
    { text: 'Response to Weight Change', left: 618, top: -48, textStyle: { fontSize: 50, fontWeight: 'normal', color: ink, fontFamily: fontFamily } },
    { text: 'Response to Weight Change during Turn', left: 2374, top: -48, textStyle: { fontSize: 50, fontWeight: 'normal', color: ink, fontFamily: fontFamily } }
  ],
  grid: [
    { left: 212, right: 1797, top: 16, bottom: 197, show: true, borderColor: rule, borderWidth: 5, backgroundColor: 'transparent', outerBoundsMode: 'none' },
    { left: 1984, right: 24, top: 16, bottom: 197, show: true, borderColor: rule, borderWidth: 5, backgroundColor: 'transparent', outerBoundsMode: 'none' }
  ],
  xAxis: [
    xAxisFor(0, -0.345, 7.408, leftXTicks),
    xAxisFor(1, -0.266, 5.634, rightXTicks)
  ],
  yAxis: [
    yAxisFor(0, 0.0289, 1.0454, 55),
    yAxisFor(1, 0.0488, 1.0444, 54)
  ],
  legend: [
    legendFor('Left Turn', '#0000ff', 1409),
    legendFor('Right Turn', '#ff0000', 3150)
  ],
  series: [
    scatterSeries('Left Turn', '#0000ff', leftTurnPoints.concat(leftTurnDense), 0),
    scatterSeries('Right Turn', '#ff0000', rightTurnPoints.concat(rightTurnDense), 1)
  ]
});
window.addEventListener('resize', function() { chart.resize(); });
</script>
</body>
</html>
